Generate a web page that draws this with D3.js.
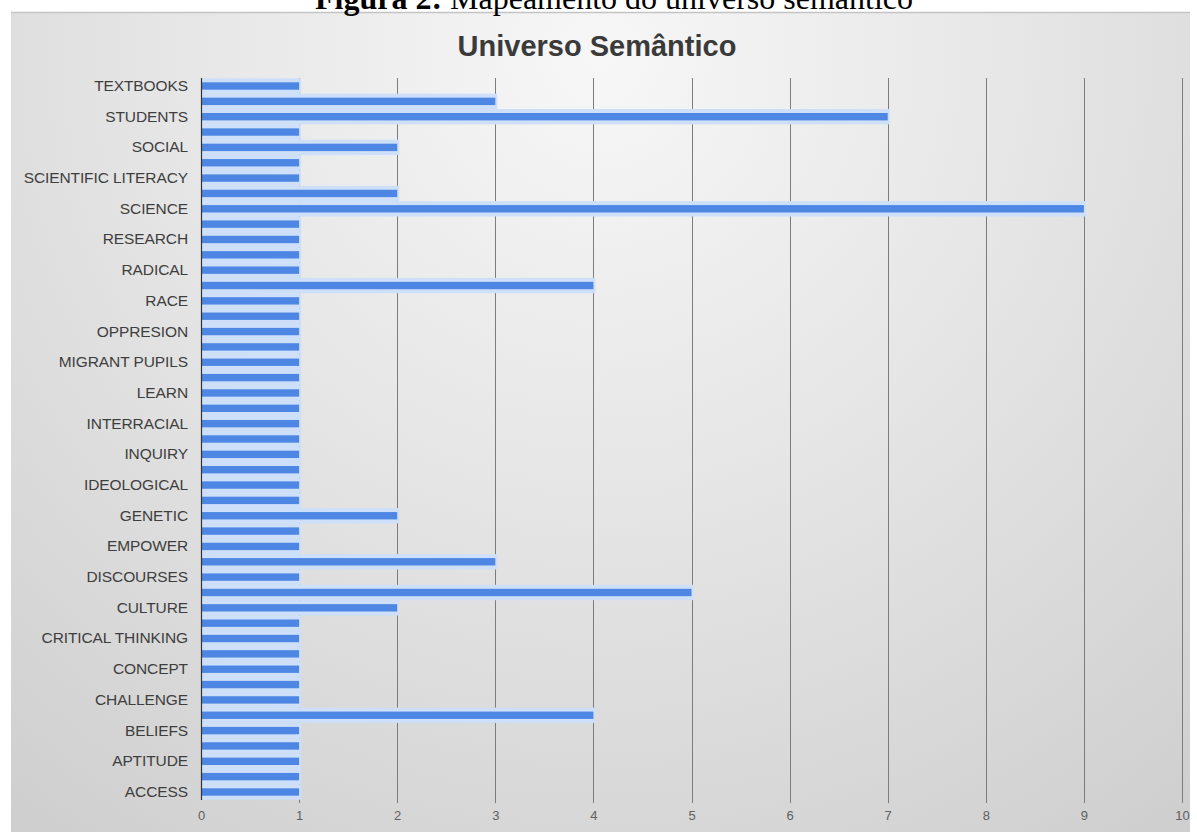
<!DOCTYPE html>
<html>
<head>
<meta charset="utf-8">
<script src="https://cdn.jsdelivr.net/npm/d3@7"></script>
<style>
  html, body { margin: 0; padding: 0; background: #ffffff; }
  svg { display: block; }
</style>
</head>
<body>
<svg id="chart" width="1197" height="832"></svg>
<script>
// ---- data (top to bottom) ----
const categories = [
  "TEXTBOOKS", "TEACHERS", "STUDENTS", "SOCIETY", "SOCIAL", "SEMANTIC",
  "SCIENTIFIC LITERACY", "SCIENCE EDUCATION", "SCIENCE", "SCHOOL", "RESEARCH",
  "REFORM", "RADICAL", "RACISM", "RACE", "POWER", "OPPRESION", "MULTICULTURAL",
  "MIGRANT PUPILS", "MIGRANT", "LEARN", "KNOWLEDGE", "INTERRACIAL", "INSTRUCTION",
  "INQUIRY", "INCLUSION", "IDEOLOGICAL", "IDENTITY", "GENETIC", "EQUITY",
  "EMPOWER", "EDUCATION", "DISCOURSES", "CURRICULUM", "CULTURE", "CRITIQUE",
  "CRITICAL THINKING", "CONTEXT", "CONCEPT", "CITIZENSHIP", "CHALLENGE",
  "BIOLOGY", "BELIEFS", "ATTITUDE", "APTITUDE", "AFRICAN", "ACCESS"
];
const values = [
  1, 3, 7, 1, 2, 1,
  1, 2, 9, 1, 1,
  1, 1, 4, 1, 1, 1, 1,
  1, 1, 1, 1, 1, 1,
  1, 1, 1, 1, 2, 1,
  1, 3, 1, 5, 2, 1,
  1, 1, 1, 1, 1,
  4, 1, 1, 1, 1, 1
];
// labels shown on the axis (every other category)
const shownLabels = categories.filter((d, i) => i % 2 === 0);
const xTicks = [0, 1, 2, 3, 4, 5, 6, 7, 8, 9, 10];
const chartTitle = "Universo Semântico";
const captionBold = "Figura 2:";
const captionText = " Mapeamento do universo semântico";

const data = categories.map((c, i) => ({ c, v: values[i] }));

const svg = d3.select("#chart");

// ---- background frame ----
const defs = svg.append("defs");
const grad = defs.append("radialGradient")
  .attr("id", "bg").attr("gradientUnits", "userSpaceOnUse")
  .attr("cx", 600).attr("cy", 60).attr("r", 950);
grad.append("stop").attr("offset", "0%").attr("stop-color", "#f7f7f7");
grad.append("stop").attr("offset", "45%").attr("stop-color", "#e6e6e6");
grad.append("stop").attr("offset", "100%").attr("stop-color", "#cfcfcf");

svg.append("rect").attr("x", 11).attr("y", 12).attr("width", 1179).attr("height", 820)
  .attr("fill", "url(#bg)");
svg.append("line").attr("x1", 11).attr("x2", 1190).attr("y1", 12.5).attr("y2", 12.5)
  .attr("stroke", "#c4c4c4").attr("stroke-width", 1.5);

// ---- caption (cut off at top) ----
const cap = svg.append("text")
  .attr("x", 614).attr("y", 9)
  .attr("text-anchor", "middle")
  .attr("font-family", "'Liberation Serif', 'Times New Roman', serif")
  .attr("font-size", 32).attr("fill", "#000");
cap.append("tspan").attr("font-weight", "bold").text(captionBold);
cap.append("tspan").text(captionText);

// ---- title ----
svg.append("text")
  .attr("x", 597).attr("y", 56)
  .attr("text-anchor", "middle")
  .attr("font-family", "'Liberation Sans', Arial, sans-serif")
  .attr("font-weight", "bold").attr("font-size", 29)
  .attr("fill", "#3a3a3a")
  .text(chartTitle);

// ---- scales ----
const left = 201, right = 1182;
const x = d3.scaleLinear().domain([0, 10]).range([left, right]);
const step = (792 - 86) / (categories.length - 1);
const y = d3.scaleBand().domain(categories)
  .range([86 - step / 2, 792 + step / 2])
  .paddingInner(0.52).paddingOuter(0.26);

const g = svg.append("g");

// gridlines
g.selectAll("line.grid").data(xTicks.slice(1)).enter().append("line")
  .attr("class", "grid")
  .attr("x1", d => Math.round(x(d)) + 0.5).attr("x2", d => Math.round(x(d)) + 0.5)
  .attr("y1", 78).attr("y2", 803)
  .attr("stroke", "#7c7c7c").attr("stroke-width", 1);

// bar halos
g.selectAll("rect.halo").data(data).enter().append("rect")
  .attr("class", "halo")
  .attr("x", x(0))
  .attr("y", d => y(d.c) - 4)
  .attr("width", d => x(d.v) - x(0) + 2)
  .attr("height", y.bandwidth() + 8)
  .attr("fill", "#cddff9");

// bars
g.selectAll("rect.bar").data(data).enter().append("rect")
  .attr("class", "bar")
  .attr("x", x(0))
  .attr("y", d => y(d.c))
  .attr("width", d => x(d.v) - x(0))
  .attr("height", y.bandwidth())
  .attr("fill", "#4d86e3");

// y axis line
g.append("line")
  .attr("x1", left + 0.5).attr("x2", left + 0.5)
  .attr("y1", 78).attr("y2", 800)
  .attr("stroke", "#333").attr("stroke-width", 1.2);

// y axis labels
const yAxis = d3.axisLeft(y).tickValues(shownLabels).tickSize(0).tickPadding(13);
const ya = g.append("g").attr("transform", `translate(${left},0)`).call(yAxis);
ya.select(".domain").remove();
ya.selectAll("text")
  .attr("font-family", "'Liberation Sans', Arial, sans-serif")
  .attr("font-size", 15.5).attr("fill", "#3e3e3e").attr("letter-spacing", "-0.1");

// x axis labels
const xAxis = d3.axisBottom(x).tickValues(xTicks).tickFormat(d3.format("d")).tickSize(0).tickPadding(0);
const xa = g.append("g").attr("transform", "translate(0,811)").call(xAxis);
xa.select(".domain").remove();
xa.selectAll("text")
  .attr("font-family", "'Liberation Sans', Arial, sans-serif")
  .attr("font-size", 13).attr("fill", "#606060");
</script>
</body>
</html>
